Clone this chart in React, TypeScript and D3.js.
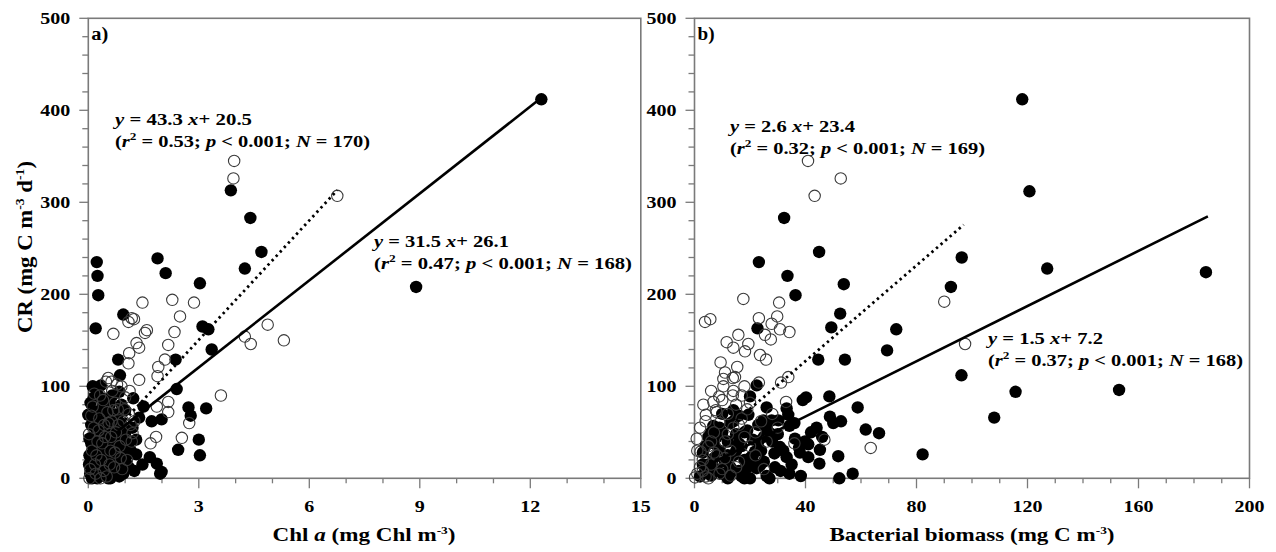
import React from "react"
import * as d3 from "d3"

// panel a) Chl a vs CR, filled and open symbols
const chlFilled: [number, number][] = [
  [12.3, 412], [8.9, 208], [3.87, 313], [4.4, 283], [4.7, 246], [4.25, 228], [1.88, 239], [2.1, 223],
  [3.03, 212], [0.23, 235], [0.25, 220], [0.27, 199], [0.95, 178], [0.2, 163], [3.1, 165], [3.26, 162],
  [3.35, 140], [0.81, 129], [2.37, 129], [0.86, 112], [0.34, 101], [0.84, 94], [2.4, 97], [0.15, 88],
  [0.45, 86], [1.22, 87], [0, 69], [1.0, 74], [1.5, 78], [1.38, 66], [1.72, 62], [1.99, 64], [2.72, 77],
  [2.78, 68], [3.2, 76], [3.0, 42], [3.03, 25], [2.44, 31], [1.3, 26], [1.47, 15], [1.67, 23], [1.86, 16],
  [1.95, 5], [1.99, 7], [0.95, 5], [1.11, 27], [1.09, 37], [1.0, 49], [0.03, 43],
  [0.05, 5], [0.1, 12], [0.15, 2], [0.2, 20], [0.25, 8], [0.3, 30], [0.35, 15], [0.4, 3], [0.45, 25],
  [0.5, 10], [0.55, 40], [0.6, 18], [0.65, 5], [0.7, 32], [0.75, 22], [0.8, 8], [0.85, 45], [0.9, 15],
  [0.95, 28], [0.12, 35], [0.22, 48], [0.32, 55], [0.42, 60], [0.52, 50], [0.62, 65], [0.72, 55],
  [0.08, 58], [0.18, 72], [0.28, 62], [0.38, 78], [0.48, 70], [0.58, 82], [0.68, 42], [0.78, 35],
  [0.88, 60], [0.98, 52], [1.05, 38], [1.1, 12], [1.15, 30], [0.03, 25], [0.14, 45], [0.24, 0], [0.34, 42],
  [0.44, 18], [0.54, 0], [0.64, 28], [0.74, 12], [0.84, 2], [0.94, 40], [0.27, 90], [0.57, 78], [0.06, 82],
  [0.02, 15], [0.17, 28], [0.37, 8], [0.47, 35], [0.67, 15], [0.77, 48], [0.87, 25], [1.02, 18], [1.2, 55],
  [1.25, 8], [0.3, 50], [0.1, 0], [0.6, 0], [0.4, 50], [0.7, 68], [0.9, 80], [0.5, 62], [0.12, 100],
  [0.65, 90], [1.3, 42], [0.55, 22], [0.35, 33], [0.08, 38], [0.82, 70],
]

const chlOpen: [number, number][] = [
  [6.76, 307], [3.96, 345], [3.94, 326], [1.47, 191], [2.28, 194], [2.87, 191], [2.49, 176], [1.18, 174],
  [1.09, 170], [1.24, 173], [0.68, 157], [1.59, 161], [1.54, 158], [2.34, 159], [2.17, 145], [1.31, 147],
  [1.38, 142], [1.11, 136], [1.09, 125], [2.08, 129], [1.9, 121], [1.88, 111], [1.38, 107], [0.54, 109],
  [0.63, 105], [4.87, 167], [4.25, 154], [4.41, 146], [5.31, 150], [3.6, 90], [1.86, 78], [2.17, 83],
  [2.17, 72], [2.74, 60], [1.84, 45], [1.69, 38], [2.54, 44], [1.15, 58], [1.2, 49], [1.18, 40], [0.68, 74],
  [0.72, 82],
  [0.05, 10], [0.1, 30], [0.15, 55], [0.2, 5], [0.25, 40], [0.3, 65], [0.35, 20], [0.4, 85], [0.45, 45],
  [0.5, 2], [0.55, 60], [0.6, 30], [0.65, 95], [0.7, 12], [0.75, 50], [0.8, 75], [0.85, 35], [0.9, 100],
  [0.95, 62], [1.0, 88], [1.05, 20], [1.1, 70], [0.02, 48], [0.12, 78], [0.22, 25], [0.32, 90], [0.42, 8],
  [0.52, 72], [0.62, 45], [0.72, 28], [0.82, 58], [0.92, 10], [1.02, 42], [1.12, 95], [0.08, 68], [0.18, 15],
  [0.28, 52], [0.38, 38], [0.48, 105], [0.58, 15], [0.78, 102], [0.88, 22], [0.98, 75], [1.25, 62],
  [0.03, 0], [0.33, 0], [0.63, 62], [0.43, 58], [0.16, 92],
]

// panel b) bacterial biomass vs CR
const bbFilled: [number, number][] = [
  [118.1, 412], [120.7, 312], [32.3, 283], [23.2, 235], [44.9, 246], [33.5, 220], [53.8, 211], [36.4, 199],
  [52.5, 179], [49.3, 164], [72.7, 162], [22.7, 163], [96.3, 240], [92.4, 208], [127.1, 228], [184.3, 224],
  [96.2, 112], [115.7, 94], [153, 96], [108, 66], [69.4, 139], [44.6, 129], [54.2, 129], [22.4, 101],
  [20, 89], [39, 85], [40.2, 88], [48.6, 89], [58.8, 77], [14, 74], [26, 77], [19.4, 69], [33.2, 76],
  [33.8, 69], [48.8, 67], [50, 60], [52.8, 62], [24.8, 63], [27.8, 63], [30.2, 63], [34.2, 57], [6.8, 57],
  [61.7, 53], [66.5, 49], [27.2, 49], [36.2, 43], [39.8, 40], [41, 37], [45.2, 31], [37.7, 33], [30.8, 34],
  [28.8, 27], [33.2, 23], [41, 23], [45, 16], [51.8, 24], [82.2, 26], [22.4, 11], [26, 2.5], [34.2, 5],
  [38.3, 2.5], [57, 5], [52.2, 0], [23.6, 14], [21.8, 29], [12.5, 3.5],
  [2, 2], [4, 8], [5, 15], [6, 3], [7, 22], [8, 10], [9, 30], [10, 5], [11, 18], [12, 40], [13, 12], [14, 25],
  [15, 48], [16, 8], [17, 35], [18, 20], [19, 52], [20, 0], [21, 42], [22, 15], [23, 58], [24, 30], [25, 45],
  [3, 28], [5, 45], [7, 38], [9, 55], [11, 5], [13, 60], [15, 30], [17, 2], [19, 12], [21, 25], [23, 40],
  [25, 18], [8, 45], [10, 50], [12, 25], [14, 62], [16, 38], [18, 50], [20, 22], [10, 70], [16, 68], [28, 40],
  [30, 48], [32, 30], [35, 15], [38, 28], [42, 50], [46, 45], [6, 50], [4, 35], [26, 55], [29, 12], [31, 8],
  [36, 60], [44, 55], [12, 0], [18, 0], [27, 0], [3, 15],
]

const bbOpen: [number, number][] = [
  [40.9, 345], [52.7, 326], [43.3, 307], [17.6, 195], [30.5, 191], [3.8, 170], [5.7, 173], [23.2, 174],
  [29.8, 176], [27.8, 168], [30.8, 162], [34.2, 159], [25.4, 156], [27.5, 151], [15.8, 156], [11.6, 148],
  [14, 142], [19.4, 146], [18.2, 138], [23.6, 134], [25.8, 129], [9.4, 126], [15.4, 121], [90, 192],
  [97.5, 146], [13.8, 109], [14.6, 110], [10.4, 108], [23.2, 104], [31.2, 104], [33.8, 110], [10.4, 100],
  [13.8, 90], [17, 90], [8.9, 89], [6.8, 83], [3.2, 80], [7.7, 74], [4.1, 69], [33, 83], [46.8, 42],
  [63.5, 33], [0.8, 43], [2.2, 29], [0.2, 1],
  [1, 5], [2, 12], [3, 20], [4, 2], [5, 35], [6, 15], [7, 50], [8, 25], [9, 60], [10, 10], [11, 40], [12, 70],
  [13, 30], [14, 55], [15, 80], [16, 18], [17, 65], [18, 45], [19, 75], [20, 35], [2, 55], [4, 62], [6, 40],
  [8, 72], [10, 85], [12, 48], [14, 95], [16, 58], [3, 8], [5, 0], [7, 28], [9, 5], [11, 22], [13, 3],
  [15, 12], [1, 30], [22, 50], [24, 62], [26, 40], [28, 70], [30, 55], [22, 25], [6, 95], [18, 100],
  [11, 115], [20, 82], [36, 38], [25, 10],
]

// regression fits: slope, intercept, r2, N, x range drawn
const chlFitFilled = { slope: 31.5, icpt: 26.1, r2: "0.47", n: 168, from: 0.8, to: 12.3 }
const chlFitOpen = { slope: 43.3, icpt: 20.5, r2: "0.53", n: 170, from: 1.0, to: 6.76 }
const bbFitFilled = { slope: 1.5, icpt: 7.2, r2: "0.37", n: 168, from: 5, to: 185 }
const bbFitOpen = { slope: 2.6, icpt: 23.4, r2: "0.32", n: 169, from: 15, to: 97 }

const yMajor = [0, 100, 200, 300, 400, 500]
const chlMajor = [0, 3, 6, 9, 12, 15]
const bbMajor = [0, 40, 80, 120, 160, 200]

const FONT = "'Liberation Serif', 'Times New Roman', serif"
const AXIS = "#7a7a7a"

const top = 18.3
const bottom = 478.3

// the original figure is stretched sideways, text widths are fitted to it
const Equation = ({ x, y, fit, w1, w2 }) => (
  <g fontFamily={FONT} fontWeight="bold" fontSize={17}>
    <text x={x} y={y} textLength={w1} lengthAdjust="spacingAndGlyphs">
      <tspan fontStyle="italic">y</tspan>
      <tspan>{` = ${fit.slope} `}</tspan>
      <tspan fontStyle="italic">x</tspan>
      <tspan>{`+ ${fit.icpt}`}</tspan>
    </text>
    <text x={x} y={y + 22} textLength={w2} lengthAdjust="spacingAndGlyphs">
      <tspan>(</tspan>
      <tspan fontStyle="italic">r</tspan>
      <tspan fontSize={11} dy={-7}>2</tspan>
      <tspan dy={7}>{` = ${fit.r2}; `}</tspan>
      <tspan fontStyle="italic">p</tspan>
      <tspan>{" < 0.001; "}</tspan>
      <tspan fontStyle="italic">N</tspan>
      <tspan>{` = ${fit.n})`}</tspan>
    </text>
  </g>
)

const Panel = ({ x0, x1, xMax, majors, minorStep, filled, open, fitFilled, fitOpen, label, children }) => {
  const x = d3.scaleLinear().domain([0, xMax]).range([x0, x1])
  const y = d3.scaleLinear().domain([0, 500]).range([bottom, top])
  const xMinor = d3.range(0, xMax + minorStep / 2, minorStep)
  const yMinor = d3.range(0, 501, 20)
  const fitPath = f =>
    d3.line<number>().x(d => x(d)).y(d => y(f.slope * d + f.icpt))([f.from, f.to])
  const tl = v => String(v).length * 10

  return (
    <g>
      {/* frame */}
      <rect x={x0} y={top} width={x1 - x0} height={bottom - top} fill="none" stroke={AXIS} strokeWidth={1.6} />
      {/* y ticks */}
      {yMinor.map(v => (
        <line key={"ym" + v} x1={x0} x2={x0 - (v % 100 === 0 ? 9 : 6)} y1={y(v)} y2={y(v)} stroke={AXIS} strokeWidth={1.3} />
      ))}
      {yMajor.map(v => (
        <text key={"yl" + v} x={x0 - 18} y={y(v)} dy="0.35em" textAnchor="end" fontFamily={FONT} fontWeight="bold"
          fontSize={17} textLength={tl(v)} lengthAdjust="spacingAndGlyphs">
          {v}
        </text>
      ))}
      {/* x ticks */}
      {xMinor.map(v => (
        <line key={"xm" + v} x1={x(v)} x2={x(v)} y1={bottom} y2={bottom + (majors.includes(v) ? 10 : 5)} stroke={AXIS} strokeWidth={1.3} />
      ))}
      {majors.map(v => (
        <text key={"xl" + v} x={x(v)} y={512} textAnchor="middle" fontFamily={FONT} fontWeight="bold"
          fontSize={17} textLength={tl(v)} lengthAdjust="spacingAndGlyphs">
          {v}
        </text>
      ))}
      {/* points */}
      {filled.map((d, i) => (
        <circle key={"f" + i} cx={x(d[0])} cy={y(d[1])} r={6.2} fill="#000" />
      ))}
      {open.map((d, i) => (
        <circle key={"o" + i} cx={x(d[0])} cy={y(d[1])} r={5.7} fill="none" stroke="#3a3a3a" strokeWidth={1.1} />
      ))}
      {/* fits */}
      <path d={fitPath(fitFilled)} stroke="#000" strokeWidth={2.6} fill="none" />
      <path d={fitPath(fitOpen)} stroke="#000" strokeWidth={2.8} strokeDasharray="2.4 3.6" fill="none" />
      <text x={x0 + 3} y={40} fontFamily={FONT} fontWeight="bold" fontSize={18} textLength={17} lengthAdjust="spacingAndGlyphs">{label}</text>
      {children}
    </g>
  )
}

export default function App() {
  return (
    <svg width={1276} height={552} style={{ position: "absolute", left: 0, top: 0, background: "#fff" }}>
      <Panel x0={88.3} x1={640.8} xMax={15} majors={chlMajor} minorStep={1}
        filled={chlFilled} open={chlOpen} fitFilled={chlFitFilled} fitOpen={chlFitOpen} label="a)">
        <Equation x={115} y={125} fit={chlFitOpen} w1={137} w2={255} />
        <Equation x={374} y={247} fit={chlFitFilled} w1={135} w2={258} />
      </Panel>
      <Panel x0={694.5} x1={1249.5} xMax={200} majors={bbMajor} minorStep={10}
        filled={bbFilled} open={bbOpen} fitFilled={bbFitFilled} fitOpen={bbFitOpen} label="b)">
        <Equation x={730} y={132} fit={bbFitOpen} w1={125} w2={255} />
        <Equation x={988} y={344} fit={bbFitFilled} w1={115} w2={255} />
      </Panel>
      {/* axis titles */}
      <text transform="translate(32,247) rotate(-90)" textAnchor="middle" fontFamily={FONT} fontWeight="bold"
        fontSize={20} textLength={172} lengthAdjust="spacingAndGlyphs">
        <tspan>CR (mg C m</tspan>
        <tspan fontSize={12} dy={-8}>-3</tspan>
        <tspan dy={8}> d</tspan>
        <tspan fontSize={12} dy={-8}>-1</tspan>
        <tspan dy={8}>)</tspan>
      </text>
      <text x={364} y={541} textAnchor="middle" fontFamily={FONT} fontWeight="bold" fontSize={19}
        textLength={183} lengthAdjust="spacingAndGlyphs">
        <tspan>Chl </tspan>
        <tspan fontStyle="italic">a</tspan>
        <tspan> (mg Chl m</tspan>
        <tspan fontSize={11} dy={-7}>-3</tspan>
        <tspan dy={7}>)</tspan>
      </text>
      <text x={972} y={541} textAnchor="middle" fontFamily={FONT} fontWeight="bold" fontSize={19}
        textLength={285} lengthAdjust="spacingAndGlyphs">
        <tspan>Bacterial biomass (mg C m</tspan>
        <tspan fontSize={11} dy={-7}>-3</tspan>
        <tspan dy={7}>)</tspan>
      </text>
    </svg>
  )
}
